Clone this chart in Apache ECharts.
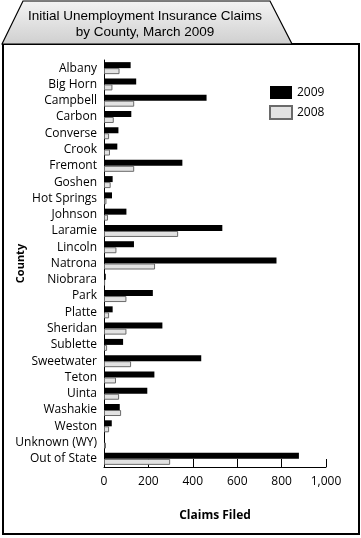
<!DOCTYPE html>
<html><head><meta charset="utf-8">
<script src="https://cdn.jsdelivr.net/npm/echarts@6/dist/echarts.min.js"></script>
<style>html,body{margin:0;padding:0;background:#fff}#c{width:361px;height:538px}</style>
</head><body><div id="c"></div>
<script>
const categories = ["Albany","Big Horn","Campbell","Carbon","Converse","Crook","Fremont","Goshen","Hot Springs","Johnson","Laramie","Lincoln","Natrona","Niobrara","Park","Platte","Sheridan","Sublette","Sweetwater","Teton","Uinta","Washakie","Weston","Unknown (WY)","Out of State"];
const claims2009 = [120,145,462,123,65,60,353,39,36,101,533,135,777,8,220,39,263,86,438,227,195,71,35,3,878];
const claims2008 = [70,38,136,44,23,27,136,30,11,18,334,56,230,5,101,23,101,14,122,54,68,77,23,9,298];
const xTicks = [0,200,400,600,800,1000];
const titleLines = ["Initial Unemployment Insurance Claims","by County, March 2009"];

const chart = echarts.init(document.getElementById('c'), null, {renderer:'canvas'});
const font = '"Open Sans", sans-serif';
chart.setOption({
  animation:false,
  backgroundColor:'#fff',
  graphic:[
    {type:'rect', shape:{x:3,y:44,width:356,height:490}, style:{fill:'#fff',stroke:'#000',lineWidth:2}, z:-10},
    {type:'polygon', shape:{points:[[2,44],[23,1],[270,1],[292,44]]},
     style:{fill:new echarts.graphic.LinearGradient(0,0,0,1,[{offset:0,color:'#f4f4f4'},{offset:1,color:'#cfcfcf'}]),stroke:'#000',lineWidth:1.2}, z:-9},
    {type:'text', style:{text:titleLines.join('\n'), x:145, y:8, textAlign:'center', font:'13.5px "Liberation Sans", Arial, sans-serif', fill:'#000', lineHeight:16}, z:5}
  ],
  legend:{
    orient:'vertical', left:264, top:81, itemWidth:22, itemHeight:13, itemGap:6, icon:'rect',
    textStyle:{fontFamily:font, fontSize:12, color:'#000'},
    data:['2009','2008']
  },
  grid:{left:104, right:35, top:60, bottom:71, containLabel:false},
  xAxis:{
    type:'value', min:0, max:1000, interval:200,
    name:'Claims Filed', nameLocation:'middle', nameGap:43, nameMoveOverlap:false,
    nameTextStyle:{fontFamily:font, fontSize:12, fontWeight:'bold', color:'#000'},
    axisLine:{show:true, lineStyle:{color:'#000', width:1}},
    axisTick:{show:true, inside:true, length:8, lineStyle:{color:'#000'}},
    axisLabel:{fontFamily:font, fontSize:12, color:'#000', margin:9,
      formatter:v=>v.toLocaleString('en-US')},
    splitLine:{show:false}
  },
  yAxis:{
    type:'category', data:categories, inverse:true,
    name:'County', nameLocation:'middle', nameGap:78, nameRotate:90, nameMoveOverlap:false,
    nameTextStyle:{fontFamily:font, fontSize:11, fontWeight:'bold', color:'#000'},
    axisLine:{show:true, lineStyle:{color:'#000', width:1}},
    axisTick:{show:false},
    axisLabel:{fontFamily:font, fontSize:12, color:'#000', margin:7, interval:0}
  },
  series:[
    {name:'2009', type:'bar', data:claims2009, barWidth:6, barGap:'0%',
     itemStyle:{color:'#000', borderColor:'#000', borderWidth:0}},
    {name:'2008', type:'bar', data:claims2008, barWidth:6, barGap:'0%',
     itemStyle:{color:'#e2e2e2', borderColor:'#6a6a6a', borderWidth:1}}
  ]
});
</script></body></html>
